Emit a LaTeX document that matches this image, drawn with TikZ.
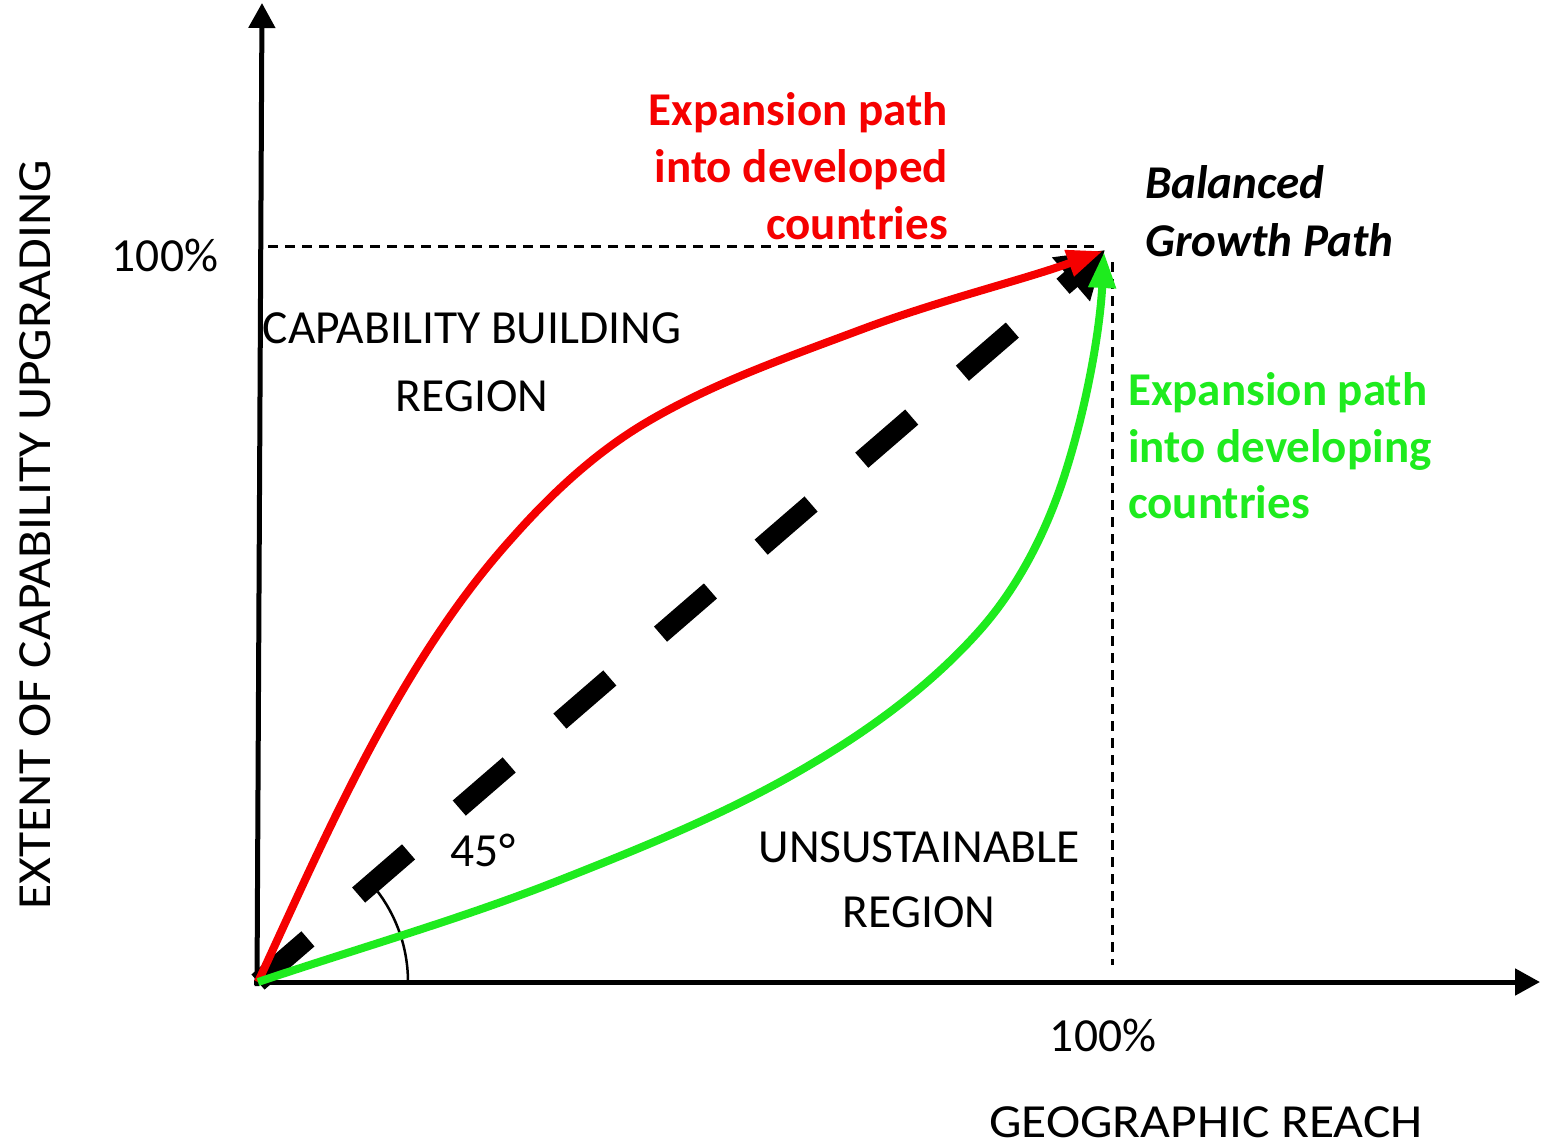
\documentclass[tikz,border=0pt]{standalone}
\usepackage{fontspec}
\setmainfont{Carlito}
\usetikzlibrary{arrows.meta}
\definecolor{myred}{RGB}{245,0,0}
\definecolor{mygreen}{RGB}{30,235,30}
\begin{document}
\begin{tikzpicture}[x=1pt,y=-1pt,
  lbl/.style={inner sep=0pt,font=\fontsize{47.5}{56}\selectfont},
  bold/.style={inner sep=0pt,font=\fontsize{47}{56}\selectfont\bfseries},
  axis/.style={line width=5pt,-{Triangle[length=25pt,width=26pt]}},
  guide/.style={line width=3pt,dash pattern=on 10pt off 7pt},
  curve/.style={line width=8pt,line join=round}]
\useasboundingbox (0,0) rectangle (1542,1146);
\coordinate (O) at (258,982);
\coordinate (ytop) at (262,3);
\coordinate (xend) at (1540,982);
\coordinate (B) at (1105,250);
\coordinate (hs) at (268,246);
\coordinate (he) at (1098,246);
\coordinate (vs) at (1112,262);
\coordinate (ve) at (1112,965);
\coordinate (Rend) at (1103,251);
\coordinate (Gend) at (1104,252);
% axes
\draw[axis] (257,986) -- (ytop);
\draw[axis] (254,982) -- (xend);
% guides
\draw[guide] (hs) -- (he);
\draw[guide] (vs) -- (ve);
% 45 deg arc
\draw[line width=2.5pt] plot[domain=0:37,samples=40] ({258+150*cos(\x)},{982-150*sin(\x)});
% balanced dashed diagonal
\draw[line width=20pt,dash pattern=on 66pt off 67pt,-{Triangle[length=45pt,width=55pt]}] (O) -- (B);
% red path
\draw[curve,myred,-{Triangle[length=36pt,width=26pt]}] (O)
  .. controls (300,891) and (343,794) .. (393,707)
  .. controls (428,646) and (466,589) .. (513,537)
  .. controls (552,493) and (596,452) .. (647,422)
  .. controls (713,383) and (788,357) .. (860,330)
  .. controls (940,300) and (1023,280) .. (Rend);
% green path
\draw[curve,mygreen,-{Triangle[length=36pt,width=26pt]}] (O)
  .. controls (359,948) and (461,919) .. (560,880)
  .. controls (646,846) and (733,811) .. (813,763)
  .. controls (874,727) and (933,683) .. (980,630)
  .. controls (1018,587) and (1045,534) .. (1063,480)
  .. controls (1087,407) and (1100,329) .. (Gend);
% labels
\node[lbl,anchor=base] (l100y) at (165,271) {100\%};
\node[lbl,anchor=base] (cb1) at (472,343) {CAPABILITY BUILDING};
\node[lbl,anchor=base] (cb2) at (472,411) {REGION};
\node[lbl,anchor=base] (deg) at (483,866) {45°};
\node[lbl,anchor=base] (un1) at (919,862) {UNSUSTAINABLE};
\node[lbl,anchor=base] (un2) at (919,927) {REGION};
\node[lbl,anchor=base] (l100x) at (1103,1051) {100\%};
\node[lbl,anchor=base,text depth=0pt] (xlab) at (1206,1137) {\scalebox{1.085}[1]{GEOGRAPHIC REACH}};
\node[lbl,anchor=base,rotate=90] (ylab) at (50,535) {\scalebox{1.085}[1]{EXTENT OF CAPABILITY UPGRADING}};
\node[bold,anchor=base east,text=myred] (r1) at (948,125) {Expansion path};
\node[bold,anchor=base east,text=myred] (r2) at (948,182) {into developed};
\node[bold,anchor=base east,text=myred] (r3) at (948,239) {countries};
\node[bold,anchor=base west,font=\fontsize{47}{56}\selectfont\bfseries\itshape] (b1) at (1145,198) {Balanced};
\node[bold,anchor=base west,font=\fontsize{47}{56}\selectfont\bfseries\itshape] (b2) at (1145,256) {Growth Path};
\node[bold,anchor=base west,text=mygreen] (g1) at (1128,405) {Expansion path};
\node[bold,anchor=base west,text=mygreen] (g2) at (1128,462) {into developing};
\node[bold,anchor=base west,text=mygreen] (g3) at (1128,518) {countries};
\end{tikzpicture}
\end{document}
